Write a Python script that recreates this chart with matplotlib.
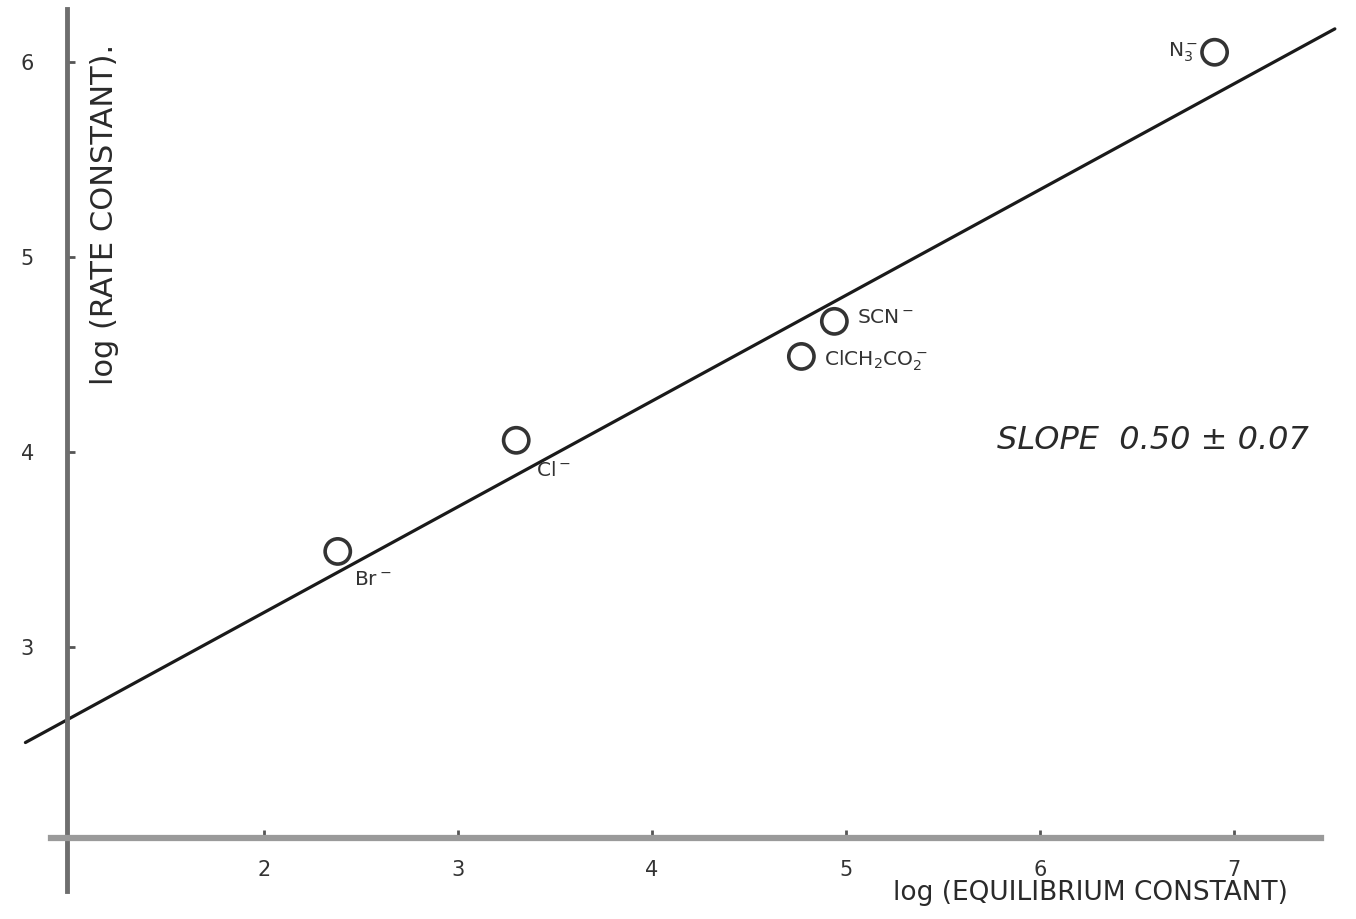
import numpy as np
import matplotlib.pyplot as plt

# data
ions = ['Br$^-$', 'Cl$^-$', 'SCN$^-$', 'ClCH$_2$CO$_2^-$', 'N$_3^-$']
log_K = [2.38, 3.30, 4.94, 4.77, 6.90]
log_k = [3.49, 4.06, 4.67, 4.49, 6.05]
fit_x = [0.77, 7.52]
fit_y = [2.51, 6.17]
xticks = [2, 3, 4, 5, 6, 7]
yticks = [3, 4, 5, 6]

# where each ion label sits relative to its point (points)
offsets = [(12, -20), (14, -22), (16, 3), (16, -3), (-12, 0)]
aligns = ['left', 'left', 'left', 'left', 'right']

fig = plt.figure(figsize=(13.56, 9.19), dpi=100)
ax = fig.add_axes([0, 0, 1, 1])
ax.set_xlim(0.639, 7.629)
ax.set_ylim(1.605, 6.318)

ax.plot(fit_x, fit_y, color='#1a1a1a', lw=2.3, solid_capstyle='round')
ax.scatter(log_K, log_k, s=330, facecolors='none', edgecolors='#333333',
           linewidths=2.6, zorder=3)

for name, x, y, off, ha in zip(ions, log_K, log_k, offsets, aligns):
    ax.annotate(name, (x, y), xytext=off, textcoords='offset points',
                ha=ha, va='center', fontsize=14.5, color='#333333')

# axes drawn like the sketch: crossing at (1, 2)
for s in ['top', 'right']:
    ax.spines[s].set_visible(False)
ax.spines['left'].set_position(('data', 0.985))
ax.spines['bottom'].set_position(('data', 2.02))
ax.spines['left'].set_bounds(1.75, 6.27)
ax.spines['bottom'].set_bounds(0.90, 7.45)
ax.spines['left'].set_color('#6e6e6e')
ax.spines['bottom'].set_color('#9a9a9a')
ax.spines['left'].set_linewidth(3.5)
ax.spines['bottom'].set_linewidth(4.5)

ax.set_xticks(xticks)
ax.set_yticks(yticks)
ax.tick_params(axis='x', direction='in', length=6, width=2, color='#555555',
               pad=16, labelsize=15, labelcolor='#333333')
ax.tick_params(axis='y', direction='in', length=6, width=2, color='#555555',
               pad=24, labelsize=15, labelcolor='#333333')

ax.text(6.26, 1.74, 'log (EQUILIBRIUM CONSTANT)', ha='center', va='center',
        fontsize=19, color='#2a2a2a')
ax.text(1.18, 5.22, 'log (RATE CONSTANT).', rotation=90, ha='center',
        va='center', fontsize=22, color='#2a2a2a')
ax.text(6.58, 4.06, 'SLOPE  0.50 ± 0.07', ha='center', va='center',
        fontsize=23, style='italic', color='#2a2a2a')

fig.savefig('out.png', dpi=100)
